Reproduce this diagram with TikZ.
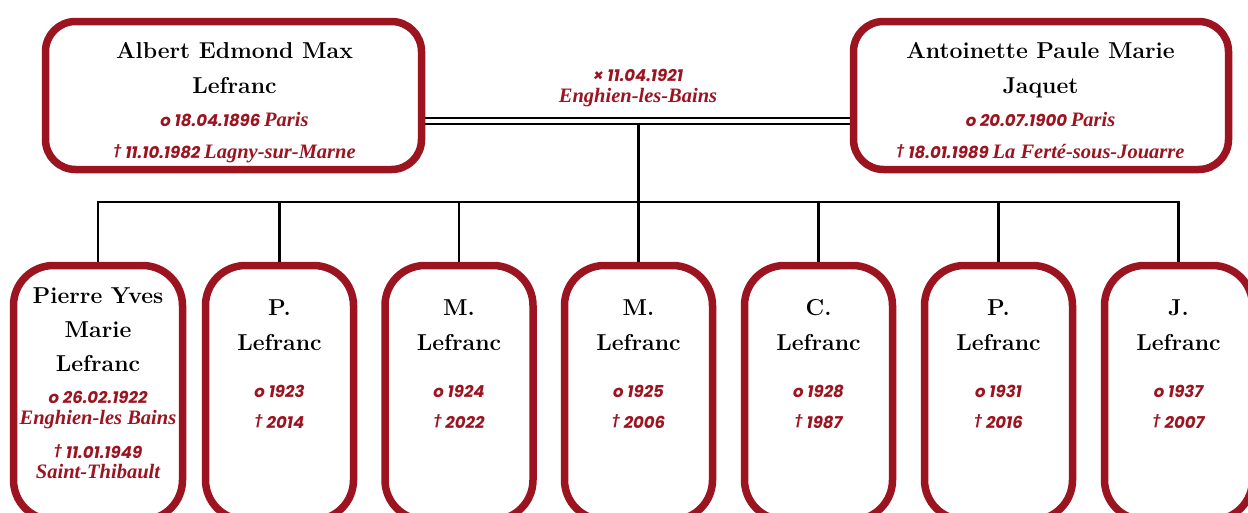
\documentclass[tikz,border=0pt]{standalone}
\usepackage{fontspec}
\newfontfamily\datefont{Poppins}
\newfontfamily\placefont{Liberation Serif}
\definecolor{famred}{RGB}{155,20,32}
\newcommand\myplace[1]{{\placefont\bfseries\itshape\fontsize{20.5}{20.5}\selectfont #1}}
\newcommand\mydag{\raisebox{3.5pt}{\fontsize{12.5}{12.5}\selectfont †}}
\begin{document}
\begin{tikzpicture}[x=1pt,y=-1pt,
  pbox/.style={draw=famred, line width=7.5pt, fill=white, rounded corners=30pt, inner sep=0pt},
  cbox/.style={pbox, rounded corners=40pt, minimum height=254.5pt},
  nm/.style={font=\bfseries\fontsize{23}{23}\selectfont, anchor=base, inner sep=0pt},
  dt/.style={font=\datefont\bfseries\itshape\fontsize{16.5}{16.5}\selectfont, text=famred, anchor=base, inner sep=0pt},
  link/.style={line width=2.2pt, draw=black}]
\useasboundingbox (0,0) rectangle (1248,512);
\clip (0,0) rectangle (1248,512);
\fill[white] (0,0) rectangle (1248,512);
% parents
\node[pbox, minimum width=376pt, minimum height=148pt] (L) at (233.5,95.5) {};
\node[pbox, minimum width=375pt, minimum height=148pt] (R) at (1041,95.5) {};
\node[nm] (l1) at (234.5,58) {Albert Edmond Max};
\node[nm] (l2) at (234.5,93) {Lefranc};
\node[dt] (l3) at (234.5,126) {o 18.04.1896 \myplace{Paris}};
\node[dt] (l4) at (234.5,158) {\mydag\ 11.10.1982 \myplace{Lagny-sur-Marne}};
\node[nm] (r1) at (1040.5,58) {Antoinette Paule Marie};
\node[nm] (r2) at (1040.5,93) {Jaquet};
\node[dt] (r3) at (1040.5,126) {o 20.07.1900 \myplace{Paris}};
\node[dt] (r4) at (1040.5,158) {\mydag\ 18.01.1989 \myplace{La Ferté-sous-Jouarre}};
% marriage
\node[dt] (m1t) at (638,81) {× 11.04.1921};
\node[dt] (m2t) at (638,102) {\myplace{Enghien-les-Bains}};
\coordinate (ma) at (0,118);
\coordinate (mb) at (0,124);
\coordinate (bus) at (0,202);
% children
\node[cbox, minimum width=169pt] (C1) at (98,392.75) {};
\node[nm] (c1a) at (98,303) {Pierre Yves};
\node[nm] (c1b) at (98,337) {Marie};
\node[nm] (c1c) at (98,371) {Lefranc};
\node[dt] (c1d) at (98,403) {o 26.02.1922};
\node[dt] (c1e) at (98,424) {\myplace{Enghien-les Bains}};
\node[dt] (c1f) at (98,458) {\mydag\ 11.01.1949};
\node[dt] (c1g) at (98,478) {\myplace{Saint-Thibault}};
\foreach \x/\ini/\b/\d [count=\i from 2] in {279.5/P./1923/2014, 459/M./1924/2022, 638.5/M./1925/2006, 818.5/C./1928/1987, 998.5/P./1931/2016, 1178.5/J./1937/2007}{
  \node[cbox, minimum width=148pt] (C\i) at (\x,392.75) {};
  \node[nm] (C\i a) at (\x,315) {\ini};
  \node[nm] (C\i b) at (\x,350) {Lefranc};
  \node[dt] (C\i c) at (\x,397) {o \b};
  \node[dt] (C\i d) at (\x,428) {\mydag\ \d};
}
% connectors
\draw[link] (L.east |- ma) -- (R.west |- ma);
\draw[link] (L.east |- mb) -- (R.west |- mb);
\draw[link] (C4.north |- mb) -- (C4.north |- bus);
\draw[link] ([xshift=-1.1pt]C1.north |- bus) -- ([xshift=1.1pt]C7.north |- bus);
\foreach \i in {1,...,7}{
  \draw[link] (C\i.north |- bus) -- (C\i.north);
}
\end{tikzpicture}
\end{document}
